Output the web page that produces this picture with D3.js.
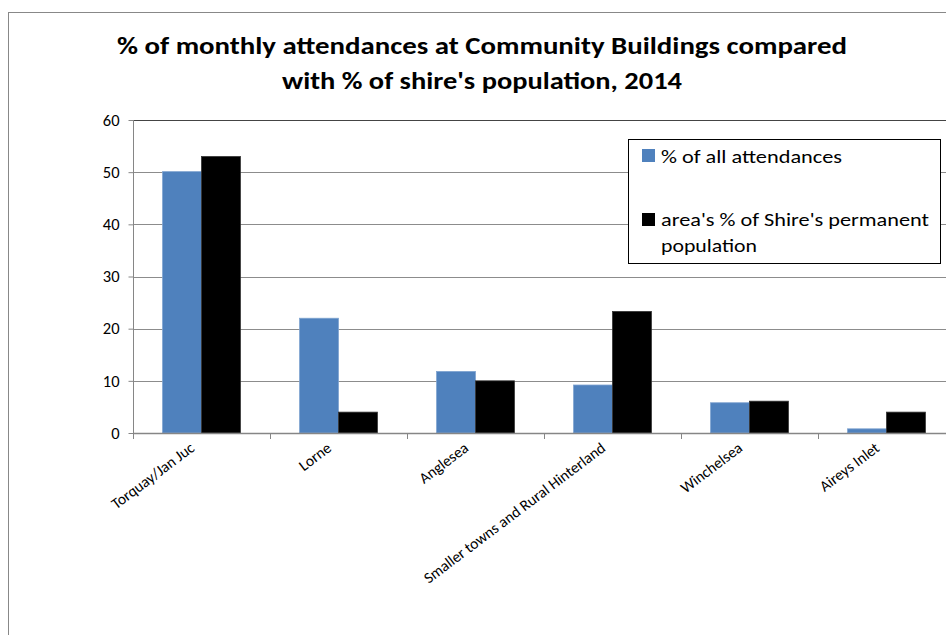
<!DOCTYPE html>
<html><head><meta charset="utf-8">
<script src="https://cdn.jsdelivr.net/npm/d3@7"></script>
<style>body{margin:0;background:#fff;} svg{display:block;}</style>
</head><body>
<script>
const categories = ["Torquay/Jan Juc","Lorne","Anglesea","Smaller towns and Rural Hinterland","Winchelsea","Aireys Inlet"];
const attendances = [50.1, 22.0, 11.8, 9.2, 5.8, 0.8];
const population = [53.0, 4.0, 10.0, 23.3, 6.1, 4.0];
const seriesNames = ["% of all attendances","area's % of Shire's permanent population"];
const yTicks = [0,10,20,30,40,50,60];
const titleLines = ["% of monthly attendances at Community Buildings compared","with % of shire's population, 2014"];

const W=946,H=635;
const svg=d3.select("body").append("svg").attr("width",W).attr("height",H);
const font="Carlito, Calibri, 'Open Sans', sans-serif";

svg.append("rect").attr("x",8.5).attr("y",12.5).attr("width",W).attr("height",H).attr("fill","none").attr("stroke","#888");

const x=d3.scaleBand().domain(categories).range([133,955]);
const y=d3.scaleLinear().domain([0,60]).range([433,120]);
const inner=d3.scaleBand().domain([0,1]).range([0,x.bandwidth()]).paddingOuter(0.76).paddingInner(0);

// gridlines
svg.append("g").selectAll("line").data(yTicks.filter(d=>d>0)).join("line")
 .attr("x1",133).attr("x2",W).attr("y1",d=>Math.round(y(d))+0.5).attr("y2",d=>Math.round(y(d))+0.5)
 .attr("stroke",d=>d===60?"#444":"#8c8c8c").attr("stroke-width",1);

// bars
const data=categories.map((c,i)=>({c,v:[attendances[i],population[i]]}));
const colors=["#4f81bd","#000000"];
const g=svg.append("g");
data.forEach(d=>{
  d.v.forEach((v,j)=>{
    g.append("rect").attr("x",x(d.c)+inner(j)).attr("width",inner.bandwidth())
     .attr("y",y(v)).attr("height",y(0)-y(v)).attr("fill",colors[j])
     .attr("stroke",j===0?"#7fa3d0":"#333").attr("stroke-width",0.8);
  });
});

// y axis
const ya=svg.append("g").attr("transform","translate(133.5,0)")
 .call(d3.axisLeft(y).tickValues(yTicks).tickSize(5).tickPadding(9));
ya.select(".domain").attr("stroke","#868686").attr("d","M0,120V433.5");
ya.selectAll(".tick line").attr("stroke","#868686");
ya.selectAll("text").attr("font-family",font).attr("font-size",16.5).attr("fill","#000");

// x axis
const xa=svg.append("g").attr("transform","translate(0,433.5)")
 .call(d3.axisBottom(x).tickSize(0).tickFormat(""));
xa.select(".domain").attr("stroke","#868686").attr("stroke-width",1.5).attr("d","M133,0H"+W);
xa.selectAll(".tick").remove();
svg.append("g").selectAll("line").data(categories).join("line")
 .attr("x1",d=>Math.round(x(d))+0.5).attr("x2",d=>Math.round(x(d))+0.5).attr("y1",433).attr("y2",439)
 .attr("stroke","#868686");
svg.append("g").selectAll("text").data(categories).join("text")
 .attr("transform",d=>`translate(${x(d)+x.bandwidth()/2-6},${450}) rotate(-37)`)
 .attr("text-anchor","end").attr("font-family",font).attr("font-size",15.5).attr("fill","#000").text(d=>d);

// title
svg.append("g").selectAll("text").data(titleLines).join("text")
 .attr("x",482).attr("y",(d,i)=>54+i*35).attr("text-anchor","middle")
 .attr("font-family",font).attr("font-weight","bold").attr("font-size",25).attr("fill","#000")
 .attr("textLength",(d,i)=>i===0?730:400).attr("lengthAdjust","spacingAndGlyphs").text(d=>d);

// legend
const lg=svg.append("g");
lg.append("rect").attr("x",628.5).attr("y",139.5).attr("width",312).attr("height",124).attr("fill","#fff").attr("stroke","#000");
lg.append("rect").attr("x",642).attr("y",149).attr("width",13).attr("height",13).attr("fill",colors[0]);
lg.append("rect").attr("x",642).attr("y",213).attr("width",13).attr("height",13).attr("fill",colors[1]);
const lt=[{t:"% of all attendances",y:163,w:181},{t:"area's % of Shire's permanent",y:226,w:268},{t:"population",y:252,w:96}];
lg.selectAll("text.l").data(lt).join("text").attr("x",661).attr("y",d=>d.y)
 .attr("font-family",font).attr("font-size",18).attr("fill","#000")
 .attr("textLength",d=>d.w).attr("lengthAdjust","spacingAndGlyphs").text(d=>d.t);
</script>
</body></html>
